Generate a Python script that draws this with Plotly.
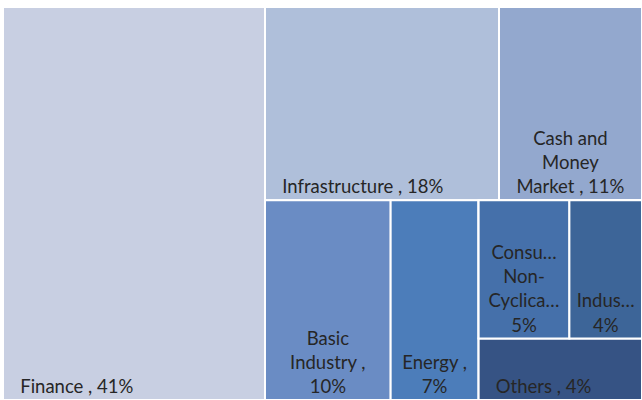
import plotly.graph_objects as go

# ---- data ----
sectors = ["Finance", "Infrastructure", "Cash and Money Market", "Basic Industry",
           "Energy", "Consumer Non-Cyclicals", "Industrials", "Others"]
weights = [41, 18, 11, 10, 7, 5, 4, 4]
# layout groups (Excel-like nesting)
groups = ["All", "Top", "Top", "Bottom", "Bottom", "SmallTop", "SmallTop", "Small"]
# wrapped / truncated display names as drawn in the cells
display_names = ["Finance ,", "Infrastructure ,", "Cash and<br>Money<br>Market ,",
                 "Basic<br>Industry ,<br>", "Energy ,<br>", "Consu…<br>Non-<br>Cyclica…<br>",
                 "Indus…<br>", "Others ,"]
left_aligned = [True, True, False, False, False, False, False, True]
colors = ["#C8CFE2", "#AFBFDA", "#93A8CE", "#6A8CC4", "#4C7DBA", "#4570AA", "#3D6598", "#365384"]

group_nodes = ["All", "Rest", "Top", "Bottom", "Small", "SmallTop"]
group_parents = ["", "All", "Rest", "Rest", "Bottom", "Small"]

INDENT = "\u00a0\u00a0\u00a0"

def fmt(name, w, left):
    sep = "" if name.endswith("<br>") else " "
    return (INDENT if left else "") + f"{name}{sep}{w}%"

ids = []
parents = []
values = []
for g, p in zip(group_nodes, group_parents):
    ids.append(g); parents.append(p); values.append(0)
for s, g, w in zip(sectors, groups, weights):
    ids.append(s); parents.append(g); values.append(w)

order = ["All", "Finance", "Rest", "Top", "Infrastructure", "Cash and Money Market",
         "Bottom", "Basic Industry", "Energy", "Small", "SmallTop",
         "Consumer Non-Cyclicals", "Industrials", "Others"]
idx = [ids.index(o) for o in order]
ids = [ids[i] for i in idx]
parents = [parents[i] for i in idx]
values = [values[i] for i in idx]

def texts(want_left):
    out = []
    for i in ids:
        if i in sectors:
            k = sectors.index(i)
            out.append(fmt(display_names[k], weights[k], want_left)
                       if left_aligned[k] == want_left else "")
        else:
            out.append("")
    return out

cols = [colors[sectors.index(i)] if i in sectors else "white" for i in ids]

FONT = dict(family="Lato", size=18.5, color="#262626")
common = dict(ids=ids, labels=ids, parents=parents, values=values,
              branchvalues="remainder", sort=False,
              tiling=dict(packing="slice-dice", pad=0),
              pathbar=dict(visible=False),
              textinfo="text", hoverinfo="skip",
              textfont=FONT, insidetextfont=FONT)

fig = go.Figure()
fig.add_trace(go.Treemap(
    text=texts(True), textposition="bottom left",
    marker=dict(colors=cols, line=dict(color="white", width=2),
                pad=dict(t=0, l=0, r=0, b=0)),
    root=dict(color="white"), **common))
fig.add_trace(go.Treemap(
    text=texts(False), textposition="bottom center",
    marker=dict(colors=["rgba(0,0,0,0)"] * len(ids), line=dict(width=0),
                pad=dict(t=0, l=0, r=0, b=0)),
    root=dict(color="rgba(0,0,0,0)"), **common))

fig.update_layout(width=642, height=400, margin=dict(l=3, r=0, t=7, b=0),
                  paper_bgcolor="white",
                  uniformtext=dict(minsize=18.5, mode="show"))
fig.write_html("out.html", config={"displayModeBar": False},
               post_script="document.body.style.margin='0';")
